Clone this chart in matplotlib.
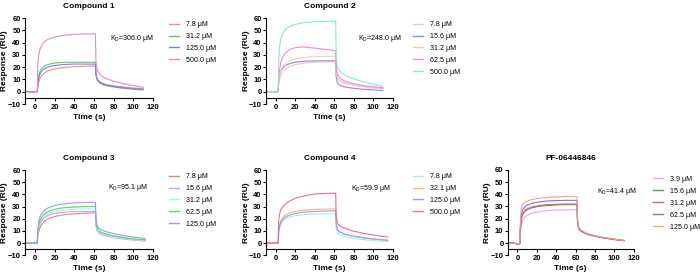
import matplotlib
matplotlib.use("Agg")
import matplotlib.pyplot as plt

plt.rcParams["font.family"] = ["Liberation Sans", "DejaVu Sans"]
plt.rcParams["mathtext.fontset"] = "custom"
plt.rcParams["mathtext.rm"] = "Liberation Sans"
plt.rcParams["mathtext.it"] = "Liberation Sans:italic"

# time points (s)
time_common = [-10, 2.5, 3, 4, 5, 6, 8, 10, 13, 16, 20, 25, 30, 40, 50,
               61.5, 62, 63, 64, 66, 70, 75, 80, 90, 100]
time_c1 = time_common + [110]
time_c2 = time_common + [110]
time_c3 = time_common + [112]
time_c4 = time_common + [115]
time_pf = [-10, -4, 1] + time_common[1:] + [110]

# Compound 1
c1_labels = ["7.8 μM", "31.2 μM", "125.0 μM", "500.0 μM"]
c1_colors = ["#F08C84", "#6CC070", "#7E7EDB", "#E58AC4"]
c1_7_8 = [0, 0, 5, 8, 10.5, 12, 14, 15.5, 16.8, 17.7, 18.5, 19.2, 19.7, 20.3, 20.8,
          21, 14, 11, 9.5, 8, 6.5, 5.5, 4.8, 3.8, 3, 2.5]
c1_31_2 = [0, 0, 8, 13, 16, 17.5, 20, 21, 22, 22.8, 23.3, 23.7, 24, 24, 24,
           24, 14, 10, 8.5, 7, 5.5, 4.5, 3.8, 2.8, 2, 1.3]
c1_125 = [0, 0, 7, 11, 14, 15.5, 17.5, 19, 20, 20.8, 21.3, 21.8, 22.2, 22.5, 22.5,
          22.5, 14, 10.5, 9, 7.5, 6, 5, 4.2, 3.2, 2.4, 1.8]
c1_500 = [0, 0, 22, 30, 34, 36, 39, 41, 42.5, 43.5, 44.5, 45.3, 46, 46.7, 47,
          47, 25, 19, 16.5, 14, 11.5, 10, 8.5, 6.5, 5, 3.5]

# Compound 2
c2_labels = ["7.8 μM", "15.6 μM", "31.2 μM", "62.5 μM", "500.0 μM"]
c2_colors = ["#F7C6BE", "#8A8AEA", "#F8CFA8", "#EE86E8", "#86EBCB"]
c2_7_8 = [0, 0, 6, 10, 13, 14.5, 17, 18.5, 20, 21, 22, 22.8, 23.3, 24, 24.3,
          24.5, 15, 12, 10.5, 9, 7.5, 6.3, 5.5, 4.2, 3.2, 2.4]
c2_15_6 = [0, 0, 9, 14, 16.5, 18, 20, 21.3, 22.5, 23.3, 24, 24.5, 24.8, 25.1, 25.2,
           25.2, 12, 8, 6.5, 5, 4, 3.3, 2.8, 2, 1.5, 1]
c2_31_2 = [0, 0, 9, 14, 17, 19, 21.5, 23, 24.7, 25.8, 26.8, 27.5, 28, 28.5, 28.8,
           28.8, 16, 12, 10, 8.5, 7, 6, 5, 4, 3.2, 2.6]
c2_62_5 = [0, 0, 12, 18, 23, 26, 29.5, 31.5, 33.5, 34.8, 35.8, 36.4, 36.3, 35.5, 34.5,
           33.5, 20, 15, 13, 11, 9, 7.5, 6.5, 5, 4, 3.2]
c2_500 = [0, 0, 25, 37, 42, 45, 48.5, 50.5, 52.5, 53.7, 54.7, 55.7, 56.3, 57, 57.3,
          57.5, 30, 22, 19, 16.5, 14, 12, 10.5, 8, 6, 4.5]

# Compound 3
c3_labels = ["7.8 μM", "15.6 μM", "31.2 μM", "62.5 μM", "125.0 μM"]
c3_colors = ["#F08080", "#D69BE6", "#A0F4F4", "#58D858", "#9A9AF5"]
c3_7_8 = [0, 0, 6, 9, 12, 14, 16.5, 18, 19.7, 20.8, 21.8, 22.7, 23.3, 24, 24.5,
          24.8, 15, 11, 9.5, 8.3, 7, 6, 5.2, 4, 3, 2.2]
c3_15_6 = [0, 0, 8, 12, 15, 17, 19.5, 21, 22.5, 23.5, 24.3, 25, 25.4, 25.8, 26,
           26, 15, 10.5, 9, 7.5, 6.3, 5.3, 4.5, 3.3, 2.4, 1.7]
c3_31_2 = [0, 0, 9, 14, 16.5, 18.5, 21, 22.5, 24, 25, 26, 26.8, 27.3, 27.8, 28,
           28, 16, 11.5, 9.8, 8.3, 7, 6, 5, 3.8, 2.9, 2.1]
c3_62_5 = [0, 0, 10, 15, 18, 20, 22.5, 24, 25.7, 26.8, 27.8, 28.6, 29.1, 29.6, 29.9,
           30, 18, 13, 11, 9.5, 8, 7, 6, 4.6, 3.5, 2.7]
c3_125 = [0, 0, 12, 18, 21, 23, 25.5, 27, 28.7, 29.8, 30.8, 31.7, 32.3, 33, 33.3,
          33.5, 20, 15, 13, 11.5, 10, 8.8, 7.8, 6.2, 5, 3.8]

# Compound 4
c4_labels = ["7.8 μM", "32.1 μM", "125.0 μM", "500.0 μM"]
c4_colors = ["#9CF0F0", "#F2B679", "#9C9CF0", "#EC6A9C"]
c4_7_8 = [0, 0, 8, 12, 15, 16.5, 18.5, 19.8, 21, 21.8, 22.5, 23, 23.4, 23.8, 24,
          24, 13, 9.5, 8, 6.8, 5.5, 4.5, 3.8, 2.8, 2, 1.3]
c4_32_1 = [0, 0, 10, 15, 18, 19.5, 21.5, 23, 24.3, 25.2, 26, 26.7, 27.1, 27.6, 27.9,
           28, 16, 12, 10.5, 9, 7.5, 6.3, 5.5, 4.2, 3.2, 2.2]
c4_125 = [0, 0, 9, 14, 16.5, 18, 20, 21.3, 22.6, 23.5, 24.3, 25, 25.5, 26, 26.3,
          26.5, 16, 12, 10.5, 9, 7.6, 6.5, 5.7, 4.4, 3.4, 2.4]
c4_500 = [0, 0, 18, 24, 27, 28.5, 30.5, 32, 34, 35.3, 36.7, 38, 39, 40.3, 40.8,
          41, 22, 17.5, 15.5, 14, 12.5, 11, 9.8, 8, 6.6, 5]

# PF-06446846
pf_labels = ["3.9 μM", "15.6 μM", "31.2 μM", "62.5 μM", "125.0 μM"]
pf_colors = ["#E6A5F0", "#4E9A6E", "#EE5A5A", "#7272EE", "#F5A37A"]
pf_3_9 = [0, 0, -1, -0.5, 8, 15, 18, 19.5, 21.5, 22.6, 23.8, 24.6, 25.3, 26, 26.5, 27, 27.2,
          27.3, 16, 12, 10.5, 9.2, 7.6, 6.3, 5.4, 4, 2.8, 1.8]
pf_15_6 = [0, 0, -1, -0.5, 10, 19, 22.5, 24, 26, 27.2, 28.3, 29, 29.7, 30.3, 30.7, 31.2, 31.4,
           31.5, 18, 13, 11.5, 10, 8.2, 6.8, 5.8, 4.3, 3.1, 2.1]
pf_31_2 = [0, 0, -1, -0.5, 11, 20, 23.5, 25, 27, 28, 29, 29.8, 30.4, 31, 31.4, 31.8, 32,
           32, 18, 13, 11.3, 9.8, 8, 6.6, 5.6, 4.1, 2.9, 1.9]
pf_62_5 = [0, 0, -1, -0.5, 13, 23, 26.5, 28, 30, 31, 32, 32.8, 33.4, 34, 34.4, 34.8, 35,
           35, 19, 13.5, 11.5, 10, 8.2, 6.8, 5.8, 4.3, 3.1, 2.1]
pf_125 = [0, 0, -1, -0.5, 15, 28, 31, 32, 33.5, 34.3, 35.2, 35.8, 36.4, 36.9, 37.3, 37.8, 38,
          38, 20, 14, 12, 10.5, 8.5, 7, 6, 4.5, 3.2, 2.2]

panels = [
    ("Compound 1", time_c1, [c1_7_8, c1_31_2, c1_125, c1_500], c1_labels, c1_colors,
     "306.0", [0.0357, 0.619, 0.183, 0.315], (0.664, 0.767), 1.125, 0.965),
    ("Compound 2", time_c2, [c2_7_8, c2_15_6, c2_31_2, c2_62_5, c2_500], c2_labels, c2_colors,
     "248.0", [0.380, 0.619, 0.181, 0.315], (0.727, 0.767), 1.157, 0.965),
    ("Compound 3", time_c3, [c3_7_8, c3_15_6, c3_31_2, c3_62_5, c3_125], c3_labels, c3_colors,
     "95.1", [0.0357, 0.065, 0.183, 0.312], (0.651, 0.792), 1.125, 0.965),
    ("Compound 4", time_c4, [c4_7_8, c4_32_1, c4_125, c4_500], c4_labels, c4_colors,
     "59.9", [0.380, 0.065, 0.181, 0.312], (0.667, 0.785), 1.157, 0.965),
    ("PF-06446846", time_pf, [pf_3_9, pf_15_6, pf_31_2, pf_62_5, pf_125], pf_labels, pf_colors,
     "41.4", [0.7253, 0.065, 0.180, 0.313], (0.705, 0.747), 1.155, 0.93),
]

fig = plt.figure(figsize=(7, 2.73), dpi=100)

for title, t, curves, labels, colors, kd, rect, kd_pos, leg_x, leg_y in panels:
    ax = fig.add_axes(rect)
    for y, lab, col in zip(curves, labels, colors):
        ax.plot(t, y, color=col, lw=0.8, label=lab)
    ax.set_xlim(-10, 120)
    ax.set_ylim(-10, 60)
    ax.set_xticks(range(0, 121, 20))
    ax.set_yticks(range(-10, 61, 10))
    ax.spines["top"].set_visible(False)
    ax.spines["right"].set_visible(False)
    # x axis crosses the y axis at -5, y axis runs on down to -10
    ax.spines["bottom"].set_position(("data", -5))
    ax.spines["left"].set_linewidth(0.8)
    ax.spines["bottom"].set_linewidth(0.8)
    ax.tick_params(direction="out", length=2, width=0.8, pad=1, labelsize=5.5)
    ax.tick_params(axis="x", pad=2.5)
    for lbl in ax.get_xticklabels() + ax.get_yticklabels():
        lbl.set_fontweight("bold")
    ax.set_title(title, fontsize=6, fontweight="bold", pad=7)
    ax.set_xlabel("Time (s)", fontsize=6, fontweight="bold", labelpad=2)
    ax.set_ylabel("Response (RU)", fontsize=6, fontweight="bold")
    ax.yaxis.set_label_coords(-0.13, 0.5)
    ax.text(kd_pos[0], kd_pos[1], r"K$_\mathregular{D}$=" + kd + " μM",
            transform=ax.transAxes, fontsize=5, va="center", ha="left")
    leg = ax.legend(loc="upper left", bbox_to_anchor=(leg_x, leg_y), frameon=False,
                    fontsize=5.1, handlelength=1.4, handletextpad=1.0,
                    labelspacing=0.7, borderpad=0, borderaxespad=0)
    for h in leg.get_lines():
        h.set_linewidth(1.0)

fig.savefig("out.png", dpi=100)
